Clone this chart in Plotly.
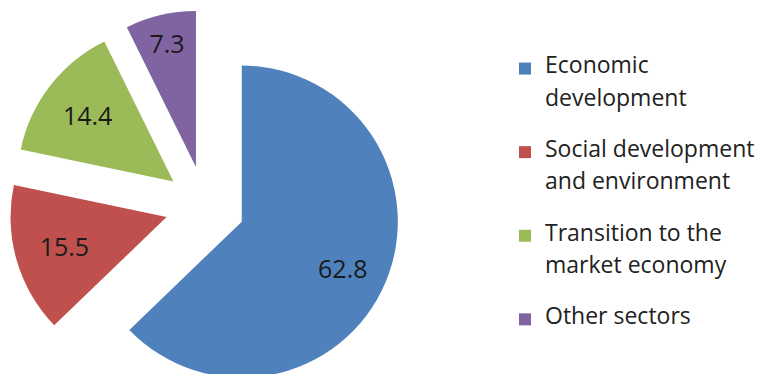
import plotly.graph_objects as go

categories = ["Economic development", "Social development and environment",
              "Transition to the market economy", "Other sectors"]
label_lines = [["Economic", "development"],
               ["Social development", "and environment"],
               ["Transition to the", "market economy"],
               ["Other sectors"]]
values = [62.8, 15.5, 14.4, 7.3]
colors = ["#4F81BD", "#C0504D", "#9BBB59", "#8064A2"]
value_text = ["62.8", "15.5", "14.4", "7.3"]

W, H = 765, 412
LEG_SIZE = 23     # visible legend text size
BASE = 12.4       # base legend font size -> controls line pitch


def legend_label(lines):
    spans = ["<span style='font-size:%dpx'>%s</span>" % (LEG_SIZE, s) for s in lines]
    if len(spans) == 1:
        return spans[0]
    # blank lines give the wide line pitch / item gap of the original legend
    return spans[0] + "<br> <br>" + spans[1] + "<br> <br> "


legend_labels = [legend_label(l) for l in label_lines]

# largest slice label: nudged outward within its slice
slice_text = list(value_text)
slice_text[0] = "\u00a0<br>" + "\u00a0" * 9 + value_text[0]

fig = go.Figure(go.Pie(
    labels=legend_labels,
    values=values,
    text=slice_text,
    textinfo="text",
    textposition="inside",
    insidetextorientation="horizontal",
    textfont=dict(family="Open Sans", size=25, color="#1a1a1a"),
    marker=dict(colors=colors, line=dict(width=0)),
    sort=False,
    direction="clockwise",
    rotation=0,
    pull=[0.256] * 4,
    domain=dict(x=[9 / W, 401 / W], y=[0, 1]),
    customdata=categories,
    hovertemplate="%{customdata}: %{value}<extra></extra>",
))

fig.update_layout(
    width=W, height=H,
    margin=dict(l=0, r=0, t=0, b=0),
    paper_bgcolor="white",
    plot_bgcolor="white",
    showlegend=True,
    legend=dict(
        x=505 / W, xanchor="left",
        y=1 - 54 / H, yanchor="top",
        valign="top",
        font=dict(family="Open Sans", size=BASE, color="#222222"),
        bgcolor="rgba(0,0,0,0)",
    ),
)

fig.write_html(
    "out.html",
    post_script="document.documentElement.style.overflow='hidden';document.body.style.overflow='hidden';document.body.style.margin='0';",
)
